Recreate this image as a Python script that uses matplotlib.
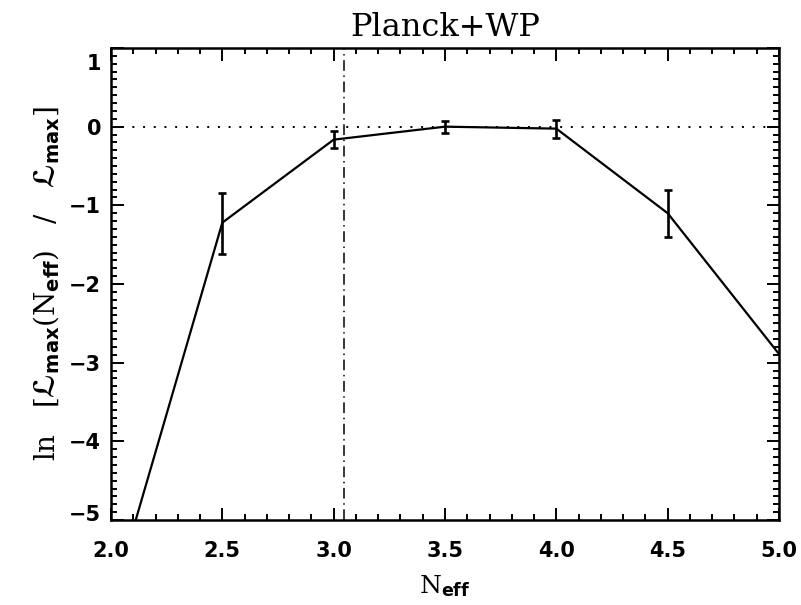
import matplotlib
matplotlib.use("Agg")
import matplotlib.pyplot as plt
import matplotlib.transforms as mtransforms
from matplotlib.ticker import MultipleLocator, FormatStrFormatter, FuncFormatter

# Profile likelihood in N_eff
n_eff = [2.0, 2.5, 3.0, 3.5, 4.0, 4.5, 5.0]
ln_like = [-6.08, -1.22, -0.165, 0.0, -0.025, -1.10, -2.89]
err_x = [2.5, 3.0, 3.5, 4.0, 4.5]
err_y = [-1.23, -0.165, 0.0, -0.025, -1.10]
err_size = [0.39, 0.11, 0.075, 0.115, 0.30]
n_eff_std = 3.046

plt.rcParams["mathtext.fontset"] = "custom"
plt.rcParams["mathtext.rm"] = "DejaVu Serif"
plt.rcParams["mathtext.it"] = "DejaVu Serif:italic"
plt.rcParams["mathtext.bf"] = "DejaVu Sans:bold"
plt.rcParams["mathtext.fallback"] = "stix"

fig = plt.figure(figsize=(8.01, 6.05), dpi=100)
ax = fig.add_axes([111 / 801, 1 - 520 / 605, (779 - 111) / 801, (520 - 48) / 605])

ax.plot(n_eff, ln_like, color="black", lw=1.6)
ax.errorbar(err_x, err_y, yerr=err_size, fmt="none", ecolor="black",
            elinewidth=1.9, capsize=2.6, capthick=1.9)
ax.axhline(0.0, color="black", lw=1.4, ls=(0, (1, 4.5)))
ax.axvline(n_eff_std, color="black", lw=1.1, ls=(0, (7, 3, 1, 3)))

ax.set_xlim(2.0, 5.0)
ax.set_ylim(-5.0, 1.0)
ax.xaxis.set_major_locator(MultipleLocator(0.5))
ax.xaxis.set_minor_locator(MultipleLocator(0.1))
ax.yaxis.set_major_locator(MultipleLocator(1))
ax.yaxis.set_minor_locator(MultipleLocator(0.1))
ax.xaxis.set_major_formatter(FormatStrFormatter("%.1f"))
ax.yaxis.set_major_formatter(FuncFormatter(
    lambda v, p: f"{int(round(v))}".replace("-", "\u2212")))

for s in ax.spines.values():
    s.set_linewidth(1.8)
ax.tick_params(which="both", direction="in", top=True, right=True, width=1.4)
ax.tick_params(which="major", length=9)
ax.tick_params(which="minor", length=4.5)
ax.tick_params(axis="x", pad=15)
ax.tick_params(axis="y", pad=7)

# End labels of the y axis sit slightly inside the frame
fig.canvas.draw()
for lab in ax.get_xticklabels() + ax.get_yticklabels():
    lab.set_fontsize(15)
    lab.set_fontweight("bold")
for lab in ax.get_yticklabels():
    if lab.get_text() == "1":
        lab.set_transform(lab.get_transform() +
                          mtransforms.ScaledTranslation(0, -14 / 100, fig.dpi_scale_trans))
    elif lab.get_text() == "\u22125":
        lab.set_transform(lab.get_transform() +
                          mtransforms.ScaledTranslation(0, 7 / 100, fig.dpi_scale_trans))

ax.set_title("Planck+WP", fontsize=23, family="DejaVu Serif", pad=9)
ax.set_xlabel(r"$\mathrm{N}_{\mathbf{eff}}$", fontsize=18, labelpad=9)
ax.set_ylabel(r"$\mathrm{ln}\ \ \ [\mathbf{ℒ}_{\mathbf{max}}(\mathrm{N}_{\mathbf{eff}})\ \ \ /\ \ \ \mathbf{ℒ}_{\mathbf{max}}]$",
              fontsize=20, labelpad=6)

fig.savefig("out.png", dpi=100)
